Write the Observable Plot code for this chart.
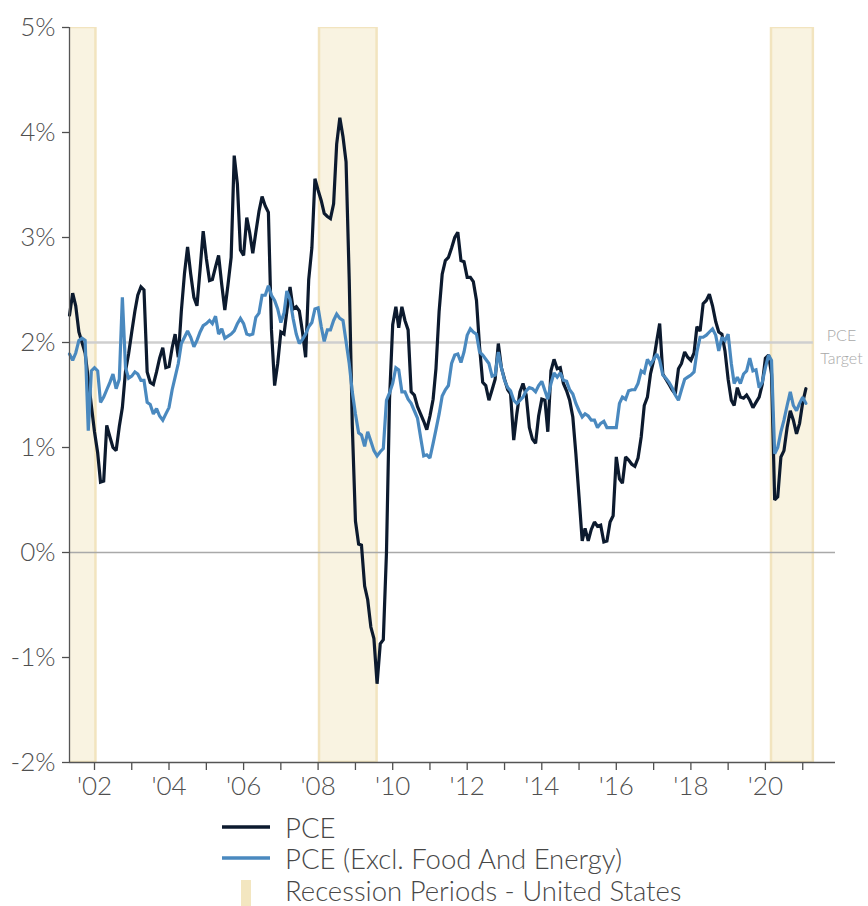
<!DOCTYPE html>
<html>
<head>
<meta charset="utf-8">
<script src="https://cdn.jsdelivr.net/npm/d3@7"></script>
<script src="https://cdn.jsdelivr.net/npm/@observablehq/plot@0.6"></script>
<style>
  html, body { margin: 0; padding: 0; background: #fff; }
  #wrap { position: relative; width: 868px; height: 906px; overflow: hidden; font-family: Lato, "Open Sans", sans-serif; }
  #legend { position: absolute; left: 0; top: 810px; width: 868px; height: 96px; }
  .item { position: absolute; left: 222px; height: 30px; display: flex; align-items: center; font-size: 27.5px; font-weight: 300; color: #474747; white-space: nowrap; }
  .item svg { margin-right: 15px; }
</style>
</head>
<body>
<div id="wrap"><div id="chart"></div><div id="legend"></div></div>
<script>
// ---- data ----
const monthStart = "2001-05-01"; // first monthly observation
const pce = [
  2.26, 2.47, 2.35, 2.10, 2.00, 1.90, 1.65, 1.40, 1.15, 0.95, 0.67, 0.68,
  1.21, 1.10, 1.00, 0.97, 1.20, 1.38, 1.73, 1.89, 2.10, 2.30, 2.45, 2.53,
  2.50, 1.72, 1.62, 1.60, 1.72, 1.85, 1.95, 1.76, 1.77, 1.95, 2.08, 1.86,
  2.30, 2.66, 2.91, 2.65, 2.43, 2.35, 2.70, 3.06, 2.80, 2.59, 2.60, 2.72,
  2.83, 2.55, 2.31, 2.55, 2.81, 3.78, 3.51, 2.88, 2.83, 3.19, 3.05, 2.85,
  3.05, 3.25, 3.39, 3.30, 3.24, 2.12, 1.59, 1.80, 2.10, 2.08, 2.30, 2.53,
  2.32, 2.34, 2.30, 2.10, 1.86, 2.60, 2.90, 3.56, 3.45, 3.35, 3.23, 3.20,
  3.18, 3.32, 3.89, 4.14, 3.96, 3.72, 2.60, 1.21, 0.30, 0.08, 0.07, -0.32,
  -0.45, -0.71, -0.82, -1.25, -0.87, -0.83, 0.00, 1.46, 2.17, 2.34, 2.14, 2.34,
  2.21, 2.12, 1.53, 1.50, 1.39, 1.32, 1.25, 1.17, 1.30, 1.46, 1.75, 2.30,
  2.65, 2.78, 2.81, 2.90, 3.00, 3.05, 2.78, 2.77, 2.62, 2.62, 2.58, 2.40,
  1.96, 1.62, 1.59, 1.45, 1.55, 1.65, 1.99, 1.76, 1.65, 1.55, 1.51, 1.07,
  1.32, 1.53, 1.61, 1.50, 1.19, 1.08, 1.04, 1.30, 1.46, 1.45, 1.15, 1.73,
  1.84, 1.75, 1.76, 1.61, 1.54, 1.45, 1.29, 0.94, 0.53, 0.11, 0.23, 0.11,
  0.22, 0.29, 0.25, 0.26, 0.10, 0.11, 0.29, 0.35, 0.91, 0.70, 0.66, 0.91,
  0.88, 0.84, 0.82, 0.90, 1.10, 1.40, 1.48, 1.70, 1.83, 2.02, 2.18, 1.70,
  1.65, 1.60, 1.55, 1.51, 1.75, 1.80, 1.91, 1.86, 1.83, 1.90, 2.15, 2.11,
  2.37, 2.40, 2.46, 2.35, 2.20, 2.10, 2.08, 1.92, 1.65, 1.45, 1.40, 1.57,
  1.48, 1.47, 1.50, 1.45, 1.38, 1.43, 1.48, 1.60, 1.85, 1.88, 1.70, 0.50,
  0.53, 0.91, 0.97, 1.19, 1.35, 1.26, 1.13, 1.23, 1.43, 1.56
];
const pceCore = [
  1.89, 1.83, 1.90, 2.02, 2.04, 2.02, 1.16, 1.73, 1.76, 1.73, 1.43, 1.48,
  1.55, 1.62, 1.70, 1.56, 1.65, 2.43, 1.76, 1.66, 1.68, 1.72, 1.70, 1.64,
  1.64, 1.43, 1.41, 1.32, 1.37, 1.30, 1.26, 1.32, 1.38, 1.55, 1.67, 1.80,
  1.99, 2.05, 2.11, 2.05, 1.96, 2.02, 2.10, 2.16, 2.18, 2.21, 2.18, 2.25,
  2.08, 2.13, 2.04, 2.06, 2.08, 2.11, 2.18, 2.23, 2.18, 2.08, 2.07, 2.08,
  2.24, 2.28, 2.45, 2.45, 2.54, 2.45, 2.40, 2.32, 2.19, 2.28, 2.49, 2.41,
  2.23, 2.08, 1.99, 2.03, 2.08, 2.15, 2.19, 2.32, 2.33, 2.15, 2.01, 2.12,
  2.12, 2.21, 2.27, 2.23, 2.21, 2.01, 1.80, 1.53, 1.32, 1.14, 1.12, 1.01,
  1.15, 1.06, 0.97, 0.92, 0.96, 0.99, 1.45, 1.52, 1.61, 1.76, 1.74, 1.53,
  1.53, 1.46, 1.42, 1.35, 1.28, 1.10, 0.92, 0.93, 0.90, 1.04, 1.17, 1.32,
  1.49, 1.55, 1.59, 1.80, 1.88, 1.89, 1.81, 1.91, 2.07, 2.13, 2.10, 2.08,
  1.91, 1.88, 1.84, 1.80, 1.68, 1.69, 1.91, 1.76, 1.64, 1.57, 1.54, 1.45,
  1.42, 1.45, 1.48, 1.54, 1.57, 1.56, 1.53, 1.59, 1.63, 1.54, 1.46, 1.61,
  1.71, 1.67, 1.71, 1.64, 1.63, 1.55, 1.51, 1.42, 1.35, 1.29, 1.32, 1.30,
  1.26, 1.26, 1.19, 1.23, 1.25, 1.19, 1.19, 1.19, 1.19, 1.42, 1.48, 1.46,
  1.54, 1.55, 1.55, 1.61, 1.73, 1.71, 1.84, 1.79, 1.84, 1.89, 1.83, 1.69,
  1.66, 1.62, 1.57, 1.50, 1.45, 1.55, 1.65, 1.67, 1.69, 1.72, 1.91, 2.05,
  2.05, 2.07, 2.10, 2.13, 2.07, 1.92, 2.05, 2.02, 2.08, 1.80, 1.61, 1.67,
  1.61, 1.70, 1.73, 1.85, 1.73, 1.74, 1.57, 1.62, 1.76, 1.88, 1.83, 0.94,
  1.00, 1.15, 1.26, 1.40, 1.53, 1.40, 1.35, 1.42, 1.48, 1.42
];
const recessionStart = ["2001-03-01", "2008-01-15", "2020-03-01"];
const recessionEnd   = ["2002-01-15", "2009-08-01", "2021-04-15"];
const xDomain = ["2001-05-01", "2021-11-18"];
const yDomain = [-2, 5];
const yTicks = [-2, -1, 0, 1, 2, 3, 4, 5];
const xTickYears  = [2002, 2003, 2004, 2005, 2006, 2007, 2008, 2009, 2010, 2011, 2012, 2013, 2014, 2015, 2016, 2017, 2018, 2019, 2020, 2021];
const xTickLabels = ["'02", "", "'04", "", "'06", "", "'08", "", "'10", "", "'12", "", "'14", "", "'16", "", "'18", "", "'20", ""];
const targetValue = 2;
const targetEnd = "2021-04-15";
const targetLabel = "PCE\nTarget";
const seriesNames = ["PCE", "PCE (Excl. Food And Energy)"];
const recessionName = "Recession Periods - United States";

// ---- colours ----
const cPce = "#0c1a2e", cCore = "#4a89bf", cBandFill = "#f9f3e1", cBandStroke = "#f2e4bf";

// ---- build ----
const dates = pce.map((_, i) => d3.utcMonth.offset(new Date(monthStart), i));
const recessions = recessionStart.map((s, i) => ({start: new Date(s), end: new Date(recessionEnd[i])}));
const xTicks = xTickYears.map(y => new Date(Date.UTC(y, 0, 1)));
const labelOf = new Map(xTickYears.map((y, i) => [y, xTickLabels[i]]));

const chart = Plot.plot({
  width: 868,
  height: 810,
  marginLeft: 69,
  marginRight: 33,
  marginTop: 27,
  marginBottom: 48,
  style: {fontFamily: "Lato, 'Open Sans', sans-serif", fontSize: "26px", fontWeight: 300, color: "#4f4f4f", background: "white", overflow: "visible"},
  x: {type: "utc", domain: xDomain.map(d => new Date(d))},
  y: {domain: yDomain},
  marks: [
    Plot.rect(recessions, {x1: "start", x2: "end", fill: cBandFill, stroke: cBandStroke, strokeWidth: 2.5, clip: true}),
    Plot.ruleY([targetValue], {y: d => d, x1: () => new Date(xDomain[0]), x2: () => new Date(targetEnd), stroke: "#cfcfcf", strokeWidth: 2.5}),
    Plot.ruleY([0], {stroke: "#a9a9a9", strokeWidth: 1.5}),
    Plot.lineY(pce, {x: (d, i) => dates[i], y: d => d, stroke: cPce, strokeWidth: 3.2, strokeLinejoin: "miter", strokeMiterlimit: 2}),
    Plot.lineY(pceCore, {x: (d, i) => dates[i], y: d => d, stroke: cCore, strokeWidth: 3.2, strokeLinejoin: "miter", strokeMiterlimit: 2}),
    Plot.axisY({ticks: yTicks, tickFormat: d => d + "%", tickSize: 7, tickPadding: 7, label: null, strokeWidth: 1.3}),
    Plot.axisX({ticks: xTicks, tickFormat: d => labelOf.get(d.getUTCFullYear()), tickSize: 8, tickPadding: 6, label: null, strokeWidth: 1.3}),
    Plot.ruleY([yDomain[0]], {stroke: "#555", strokeWidth: 1.5}),
    Plot.ruleX([new Date(xDomain[0])], {stroke: "#555", strokeWidth: 1.3}),
    Plot.text([targetLabel], {x: () => new Date(xDomain[1]), y: () => targetValue, text: d => d, dx: 6, dy: 3, textAnchor: "middle", fontSize: 16, fill: "#a8a8a8", lineHeight: 1.4})
  ]
});
document.getElementById("chart").appendChild(chart);

// ---- legend ----
const legend = document.getElementById("legend");
const rowsTop = [2, 33, 65];
seriesNames.forEach((name, i) => {
  const div = document.createElement("div");
  div.className = "item";
  div.style.top = rowsTop[i] + "px";
  div.innerHTML = `<svg width="48" height="10"><line x1="0" y1="5" x2="48" y2="5" stroke="${i === 0 ? cPce : cCore}" stroke-width="3.5"/></svg><span></span>`;
  div.querySelector("span").textContent = name;
  legend.appendChild(div);
});
{
  const div = document.createElement("div");
  div.className = "item";
  div.style.top = rowsTop[2] + "px";
  div.innerHTML = `<svg width="48" height="30" style="overflow:visible"><rect x="19" y="5" width="10" height="40" fill="#f3e6c0"/></svg><span></span>`;
  div.querySelector("span").textContent = recessionName;
  legend.appendChild(div);
}
</script>
</body>
</html>
